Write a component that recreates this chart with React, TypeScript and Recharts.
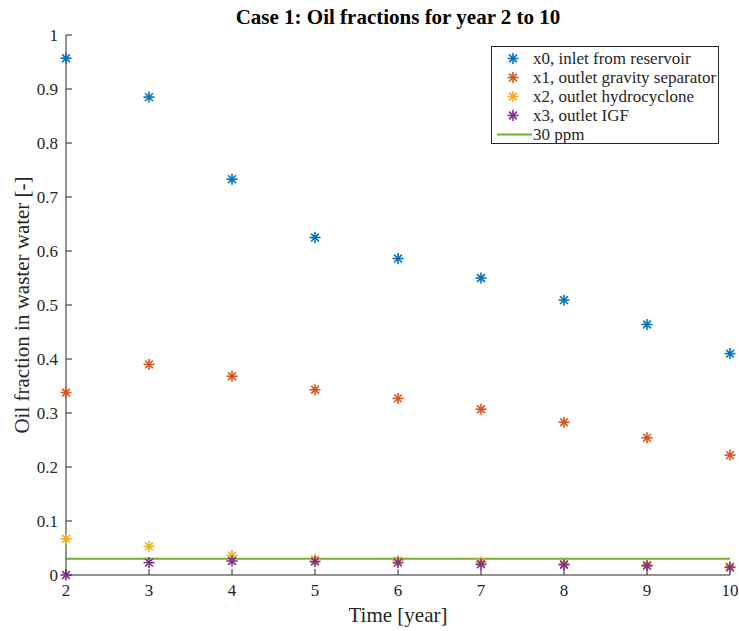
import {
  ScatterChart,
  Scatter,
  XAxis,
  YAxis,
  ReferenceLine,
  Legend,
  Label,
} from "recharts";

// Years on the x axis and oil fraction per stage
const years = [2, 3, 4, 5, 6, 7, 8, 9, 10];
const x0Inlet = [0.957, 0.885, 0.733, 0.625, 0.586, 0.55, 0.509, 0.464, 0.41];
const x1Gravity = [0.338, 0.39, 0.368, 0.343, 0.327, 0.307, 0.283, 0.254, 0.222];
const x2Hydro = [0.067, 0.053, 0.036, 0.029, 0.027, 0.024, 0.021, 0.019, 0.016];
const x3Igf = [0.0, 0.023, 0.026, 0.025, 0.023, 0.02, 0.019, 0.017, 0.014];
const limit30ppm = 0.03;

const xTicks = [2, 3, 4, 5, 6, 7, 8, 9, 10];
const yTicks = [0, 0.1, 0.2, 0.3, 0.4, 0.5, 0.6, 0.7, 0.8, 0.9, 1];

const seriesNames = [
  "x0, inlet from reservoir",
  "x1, outlet gravity separator",
  "x2, outlet hydrocyclone",
  "x3, outlet IGF",
];
const limitName = "30 ppm";

const colors = ["#0072BD", "#D95319", "#EDB120", "#7E2F8E"];
const green = "#77AC30";
const axisColor = "#262626";
const font = "'Liberation Serif', 'Times New Roman', serif";

const toPoints = (vals: number[]) => years.map((x, i) => ({ x, y: vals[i] }));

// MATLAB-style '*' marker: four strokes through the centre
function Asterisk({ cx, cy, fill }: { cx?: number; cy?: number; fill?: string }) {
  if (cx == null || cy == null) return null;
  const r = 5.5;
  const d = r * 0.7071;
  return (
    <g stroke={fill} strokeWidth={1.6} strokeLinecap="butt">
      <line x1={cx - r} y1={cy} x2={cx + r} y2={cy} />
      <line x1={cx} y1={cy - r} x2={cx} y2={cy + r} />
      <line x1={cx - d} y1={cy - d} x2={cx + d} y2={cy + d} />
      <line x1={cx - d} y1={cy + d} x2={cx + d} y2={cy - d} />
    </g>
  );
}

function LegendBox() {
  return (
    <div
      style={{
        border: `1px solid ${axisColor}`,
        background: "#fff",
        width: 228,
        height: 98,
        boxSizing: "border-box",
        paddingTop: 2,
        fontFamily: font,
        fontSize: 17,
        color: axisColor,
        textAlign: "left",
        whiteSpace: "nowrap",
      }}
    >
      {seriesNames.map((name, i) => (
        <div key={name} style={{ display: "flex", alignItems: "center", height: 19 }}>
          <svg width={41} height={19} style={{ flex: "none" }}>
            <Asterisk cx={21} cy={9.5} fill={colors[i]} />
          </svg>
          <span>{name}</span>
        </div>
      ))}
      <div style={{ display: "flex", alignItems: "center", height: 19 }}>
        <svg width={41} height={19} style={{ flex: "none" }}>
          <line x1={5} y1={9.5} x2={40} y2={9.5} stroke={green} strokeWidth={2} />
        </svg>
        <span>{limitName}</span>
      </div>
    </div>
  );
}

export default function App() {
  const tickStyle = { fontSize: 17, fill: axisColor, fontFamily: font };

  return (
    <div style={{ position: "absolute", left: 0, top: 0, width: 739, height: 631, background: "#fff" }}>
      <div
        style={{
          position: "absolute",
          left: 66,
          width: 664,
          top: 5,
          textAlign: "center",
          fontFamily: font,
          fontWeight: "bold",
          fontSize: 21,
          color: "#000",
        }}
      >
        Case 1: Oil fractions for year 2 to 10
      </div>

      <ScatterChart
        width={739}
        height={631}
        margin={{ top: 35, right: 9, left: 0, bottom: 0 }}
      >
        <XAxis
          xAxisId="bottom"
          dataKey="x"
          type="number"
          domain={[2, 10]}
          ticks={xTicks}
          height={56}
          tickSize={-6}
          tickMargin={15}
          tick={tickStyle}
          stroke={axisColor}
        >
          <Label
            value="Time [year]"
            position="insideBottom"
            offset={9}
            style={{ fontSize: 21, fill: axisColor, fontFamily: font }}
          />
        </XAxis>
        <XAxis
          xAxisId="top"
          orientation="top"
          type="number"
          domain={[2, 10]}
          ticks={xTicks}
          height={0}
          tickSize={-6}
          tick={false}
          stroke={axisColor}
        />
        <YAxis
          yAxisId="left"
          dataKey="y"
          type="number"
          domain={[0, 1]}
          ticks={yTicks}
          width={66}
          tickSize={-6}
          tickMargin={14}
          tick={tickStyle}
          stroke={axisColor}
        >
          <Label
            value="Oil fraction in waster water [-]"
            angle={-90}
            position="insideLeft"
            offset={22}
            style={{ fontSize: 21, fill: axisColor, fontFamily: font, textAnchor: "middle" }}
          />
        </YAxis>
        <YAxis
          yAxisId="right"
          orientation="right"
          type="number"
          domain={[0, 1]}
          ticks={yTicks}
          width={0}
          tickSize={-6}
          tick={false}
          stroke={axisColor}
        />

        {[x0Inlet, x1Gravity, x2Hydro, x3Igf].map((vals, i) => (
          <Scatter
            key={seriesNames[i]}
            name={seriesNames[i]}
            xAxisId="bottom"
            yAxisId="left"
            data={toPoints(vals)}
            fill={colors[i]}
            shape={<Asterisk />}
            isAnimationActive={false}
          />
        ))}

        <ReferenceLine
          xAxisId="bottom"
          yAxisId="left"
          y={limit30ppm}
          stroke={green}
          strokeWidth={2}
        />

        <Legend
          content={() => <LegendBox />}
          layout="horizontal"
          verticalAlign="middle"
          align="center"
          wrapperStyle={{ position: "absolute", left: 491, top: 46, width: 228 }}
        />
      </ScatterChart>
    </div>
  );
}
